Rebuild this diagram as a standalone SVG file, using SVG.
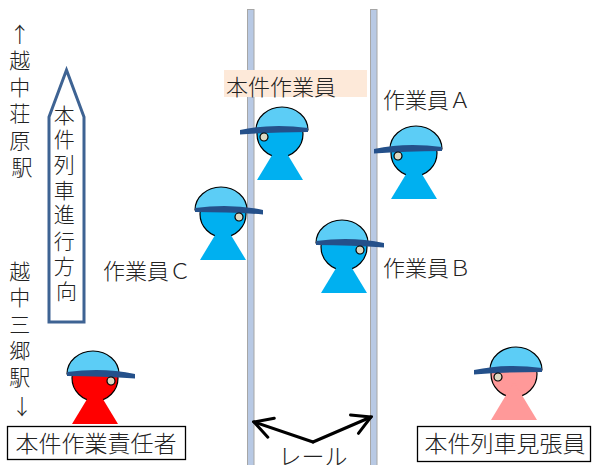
<svg xmlns="http://www.w3.org/2000/svg" width="592" height="465" viewBox="0 0 592 465">
  <style>
    text { font-family: "Noto Sans CJK JP", "Noto Sans", sans-serif; font-weight: 300; fill: #222; }
    .lbl { font-size: 22px; }
    .vt { font-size: 21px; text-anchor: middle; }
    .ctr { font-size: 23px; text-anchor: middle; }
    .rail { fill: #b8c9e4; stroke: #a6a6a6; stroke-width: 1; }
    .head { stroke: #000; stroke-width: 1.2; }
    .cap { fill: #5ccdf6; stroke: #000; stroke-width: 1.2; }
    .brim { fill: #24508a; }
    .eye { fill: #ddd9c3; stroke: #000; stroke-width: 1.2; }
    .box { fill: #fff; stroke: #000; stroke-width: 1.3; }
    .rl { fill: none; stroke: #000; stroke-width: 3; stroke-linecap: round; stroke-linejoin: round; }
  </style>
  <defs>
    <!-- worker figure, head centre at origin, facing left -->
    <g id="fig">
      <circle class="head" cx="0" cy="0" r="23"/>
      <path d="M0,8 L23,46 L-23,46 Z" stroke="none"/>
      <path class="cap" d="M-24,-4 A26,23 0 0 1 28,-4 Z"/>
      <path class="brim" d="M-40,-4 Q-8,-11 28,-6 L28,-2 Q-8,-2 -40,0.5 Z"/>
      <circle class="eye" cx="-16" cy="3" r="4"/>
    </g>
    <marker id="open" viewBox="0 0 24 24" refX="22" refY="12" markerWidth="24" markerHeight="24" orient="auto" markerUnits="userSpaceOnUse">
      <path d="M4,2 L22,12 L4,22" fill="none" stroke="#000" stroke-width="3" stroke-linecap="round" stroke-linejoin="miter"/>
    </marker>
  </defs>

  <rect width="592" height="465" fill="#fff"/>

  <!-- rails -->
  <g id="rails">
    <rect class="rail" x="247.5" y="9.5" width="6.5" height="460"/>
    <rect class="rail" x="370.5" y="9.5" width="6.5" height="460"/>
  </g>

  <!-- station labels, one glyph per line -->
  <g id="north-station">
    <text class="vt">
      <tspan x="22" y="42">↑</tspan>
      <tspan x="22" y="68">越</tspan>
      <tspan x="22" y="95">中</tspan>
      <tspan x="22" y="121">荘</tspan>
      <tspan x="22" y="148">原</tspan>
      <tspan x="22" y="175">駅</tspan>
    </text>
  </g>
  <g id="south-station">
    <text class="vt">
      <tspan x="22" y="279">越</tspan>
      <tspan x="22" y="305">中</tspan>
      <tspan x="22" y="332">三</tspan>
      <tspan x="22" y="358">郷</tspan>
      <tspan x="22" y="385">駅</tspan>
      <tspan x="22" y="414">↓</tspan>
    </text>
  </g>

  <!-- train direction arrow -->
  <g id="direction">
    <polygon points="66.5,70 84,117 84,322 49,322 49,117" fill="#fff" stroke="#3e6393" stroke-width="3" stroke-linejoin="miter"/>
    <text class="vt">
      <tspan x="66.5" y="123">本</tspan>
      <tspan x="66.5" y="147">件</tspan>
      <tspan x="66.5" y="172">列</tspan>
      <tspan x="66.5" y="198">車</tspan>
      <tspan x="66.5" y="222">進</tspan>
      <tspan x="66.5" y="249">行</tspan>
      <tspan x="66.5" y="274">方</tspan>
      <tspan x="66.5" y="299">向</tspan>
    </text>
  </g>

  <!-- workers -->
  <g id="worker-main">
    <rect x="224" y="70" width="143" height="27" fill="#fde9d9"/>
    <text class="lbl" x="226" y="95">本件作業員</text>
    <use href="#fig" transform="translate(280,134)" fill="#00b0f0"/>
  </g>
  <g id="worker-a">
    <text class="lbl" x="383" y="108">作業員Ａ</text>
    <use href="#fig" transform="translate(414,153)" fill="#00b0f0"/>
  </g>
  <g id="worker-b">
    <text class="lbl" x="383" y="276">作業員Ｂ</text>
    <use href="#fig" transform="translate(344,247) scale(-1,1)" fill="#00b0f0"/>
  </g>
  <g id="worker-c">
    <text class="lbl" x="103" y="279">作業員Ｃ</text>
    <use href="#fig" transform="translate(223,214) scale(-1,1)" fill="#00b0f0"/>
  </g>
  <g id="supervisor">
    <use href="#fig" transform="translate(95,378) scale(-1,1)" fill="#ff0000"/>
    <rect class="box" x="7.5" y="426.5" width="178" height="33"/>
    <text class="ctr" x="96" y="452">本件作業責任者</text>
  </g>
  <g id="lookout">
    <use href="#fig" transform="translate(514,374)" fill="#ff9999"/>
    <rect class="box" x="417.5" y="426.5" width="173" height="35"/>
    <text class="ctr" x="505" y="452">本件列車見張員</text>
  </g>

  <!-- rail pointer -->
  <g id="connectors">
    <path class="rl" d="M313,442 L254,422" marker-end="url(#open)"/>
    <path class="rl" d="M313,442 L371,417" marker-end="url(#open)"/>
  </g>
  <text class="ctr" x="313" y="465">レール</text>
</svg>
